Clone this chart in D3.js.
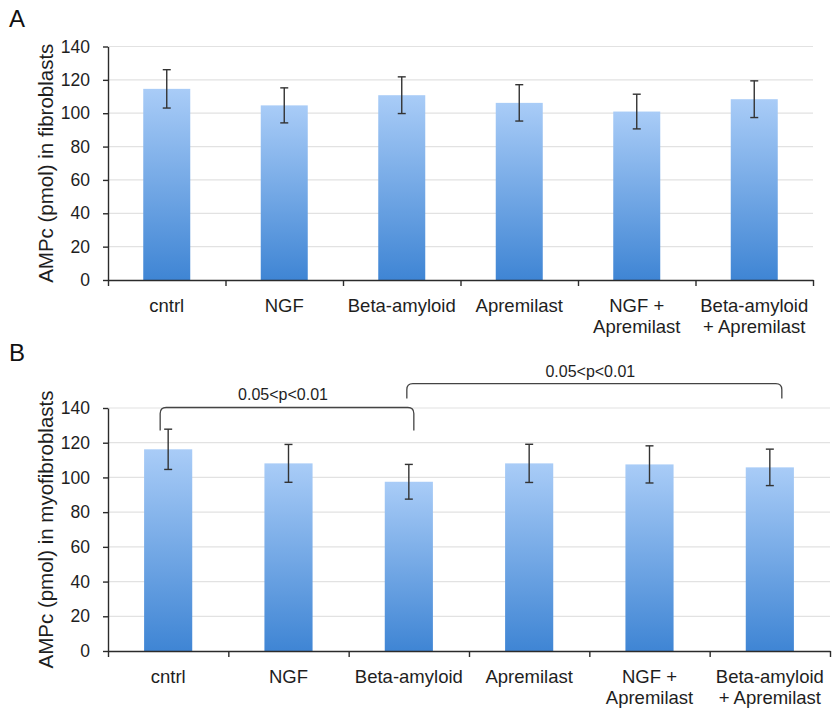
<!DOCTYPE html>
<html>
<head>
<meta charset="utf-8">
<script src="https://cdn.jsdelivr.net/npm/d3@7"></script>
<style>
body { margin: 0; background: #fff; }
svg { display: block; font-family: "Liberation Sans", Arial, sans-serif; }
.grid line { stroke: #e2e2e2; stroke-width: 1.2; }
.axis path, .axis line { stroke: #2b2b2b; stroke-width: 1.4; }
.axis text { fill: #1e1e1e; font-size: 17.5px; }
.err { stroke: #333; stroke-width: 1.4; fill: none; }
.bracket { stroke: #444; stroke-width: 1.3; fill: none; }
</style>
</head>
<body>
<div class="main"></div>
<script>
// categories (each label split in lines)
var categories = ["cntrl", "NGF", "Beta-amyloid", "Apremilast", "NGF + Apremilast", "Beta-amyloid + Apremilast"];
var labelLines = [["cntrl"], ["NGF"], ["Beta-amyloid"], ["Apremilast"], ["NGF +", "Apremilast"], ["Beta-amyloid", "+ Apremilast"]];

// panel A - fibroblasts
var fibroMean = [114.6, 104.7, 110.8, 106.2, 101.0, 108.4];
var fibroErr  = [11.5, 10.5, 11.0, 10.9, 10.4, 11.0];

// panel B - myofibroblasts
var myoMean = [116.2, 108.1, 97.5, 108.1, 107.5, 105.8];
var myoErr  = [11.6, 10.9, 10.0, 11.0, 10.7, 10.5];

var yTicks = [0, 20, 40, 60, 80, 100, 120, 140];

// significance brackets of panel B (category index, y values)
var bracketFrom  = [0, 2];
var bracketTo    = [2, 5];
var bracketTop   = [140.3, 154];
var bracketEnd   = [127, 145.5];
var bracketLabel = ["0.05<p<0.01", "0.05<p<0.01"];

var W = 834, H = 713;

var svg = d3.select(".main")
.append("svg")
.attr("width", W)
.attr("height", H);

var defs = svg.append("defs");
var grad = defs.append("linearGradient")
.attr("id", "barGrad")
.attr("x1", 0).attr("y1", 0)
.attr("x2", 0).attr("y2", 1);
grad.append("stop").attr("offset", "0%").attr("stop-color", "#a9ccf7");
grad.append("stop").attr("offset", "100%").attr("stop-color", "#3f85d4");

function drawPanel(p) {
    var g = svg.append("g");

    var y = d3.scaleLinear()
    .domain([0, 140])
    .range([p.bottom, p.top]);

    var x = d3.scaleBand()
    .domain(categories)
    .range([p.left, p.right])
    .paddingInner(0.6)
    .paddingOuter(0.3);

    // boundaries between categories for the x ticks
    var xEdge = d3.scaleLinear()
    .domain([0, categories.length])
    .range([p.left, p.right]);

    //grid
    g.append("g")
    .attr("class", "grid")
    .selectAll("line")
    .data(yTicks.slice(1))
    .enter().append("line")
    .attr("x1", p.left)
    .attr("x2", p.right)
    .attr("y1", function(d) { return y(d); })
    .attr("y2", function(d) { return y(d); });

    //bars
    g.selectAll(".bar")
    .data(p.mean)
    .enter().append("rect")
    .attr("class", "bar")
    .attr("x", function(d, i) { return x(categories[i]); })
    .attr("width", x.bandwidth())
    .attr("y", function(d) { return y(d); })
    .attr("height", function(d) { return y(0) - y(d); })
    .style("fill", "url(#barGrad)");

    //error bars
    var eb = g.selectAll(".eb")
    .data(p.mean)
    .enter().append("g")
    .attr("class", "err")
    .attr("transform", function(d, i) {
        return "translate(" + (x(categories[i]) + x.bandwidth() / 2) + ",0)";
    });
    eb.append("line")
    .attr("y1", function(d, i) { return y(d - p.err[i]); })
    .attr("y2", function(d, i) { return y(d + p.err[i]); });
    eb.append("line")
    .attr("x1", -4).attr("x2", 4)
    .attr("y1", function(d, i) { return y(d + p.err[i]); })
    .attr("y2", function(d, i) { return y(d + p.err[i]); });
    eb.append("line")
    .attr("x1", -4).attr("x2", 4)
    .attr("y1", function(d, i) { return y(d - p.err[i]); })
    .attr("y2", function(d, i) { return y(d - p.err[i]); });

    //y axis
    g.append("g")
    .attr("class", "axis")
    .attr("transform", "translate(" + p.left + ",0)")
    .call(d3.axisLeft(y).tickValues(yTicks).tickSize(5).tickSizeOuter(0).tickPadding(13));

    //x axis
    g.append("g")
    .attr("class", "axis")
    .attr("transform", "translate(0," + p.bottom + ")")
    .call(d3.axisBottom(xEdge).tickValues(d3.range(categories.length + 1)).tickSize(6).tickSizeOuter(0).tickFormat(""));

    //x labels
    var lab = g.selectAll(".xlab")
    .data(labelLines)
    .enter().append("text")
    .attr("class", "xlab")
    .attr("text-anchor", "middle")
    .style("font-size", "18.5px")
    .style("fill", "#1e1e1e")
    .attr("transform", function(d, i) {
        return "translate(" + (x(categories[i]) + x.bandwidth() / 2) + "," + (p.bottom + 32) + ")";
    });
    lab.selectAll("tspan")
    .data(function(d) { return d; })
    .enter().append("tspan")
    .attr("x", 0)
    .attr("y", function(d, i) { return i * 21; })
    .text(function(d) { return d; });

    //y title
    g.append("text")
    .attr("transform", "translate(53," + ((p.top + p.bottom) / 2) + ") rotate(-90)")
    .attr("text-anchor", "middle")
    .style("font-size", "20.5px")
    .style("fill", "#1e1e1e")
    .text(p.title);

    //panel letter
    g.append("text")
    .attr("x", 9)
    .attr("y", p.letterY)
    .style("font-size", "24px")
    .style("fill", "#111")
    .text(p.letter);

    return {x: x, y: y, g: g};
}

var panelA = drawPanel({
    top: 46.5, bottom: 280, left: 108, right: 813,
    mean: fibroMean, err: fibroErr,
    title: "AMPc (pmol) in fibroblasts",
    letter: "A", letterY: 27
});

var panelB = drawPanel({
    top: 408, bottom: 651, left: 108, right: 830,
    mean: myoMean, err: myoErr,
    title: "AMPc (pmol) in myofibroblasts",
    letter: "B", letterY: 361
});

//brackets on panel B
var bx = panelB.x, by = panelB.y;
var nudge = [[-8, 5], [-2, 12]];
bracketFrom.forEach(function(f, i) {
    var x1 = bx(categories[f]) + bx.bandwidth() / 2 + nudge[i][0];
    var x2 = bx(categories[bracketTo[i]]) + bx.bandwidth() / 2 + nudge[i][1];
    var yt = by(bracketTop[i]), ye = by(bracketEnd[i]);
    var r = 6;
    var path = d3.path();
    path.moveTo(x1, ye);
    path.lineTo(x1, yt + r);
    path.quadraticCurveTo(x1, yt, x1 + r, yt);
    path.lineTo(x2 - r, yt);
    path.quadraticCurveTo(x2, yt, x2, yt + r);
    path.lineTo(x2, ye);
    panelB.g.append("path")
    .attr("class", "bracket")
    .attr("d", path.toString());
    panelB.g.append("text")
    .attr("x", (x1 + x2) / 2 - 4)
    .attr("y", yt - 7)
    .attr("text-anchor", "middle")
    .style("font-size", "16px")
    .style("fill", "#1e1e1e")
    .text(bracketLabel[i]);
});
</script>
</body>
</html>
